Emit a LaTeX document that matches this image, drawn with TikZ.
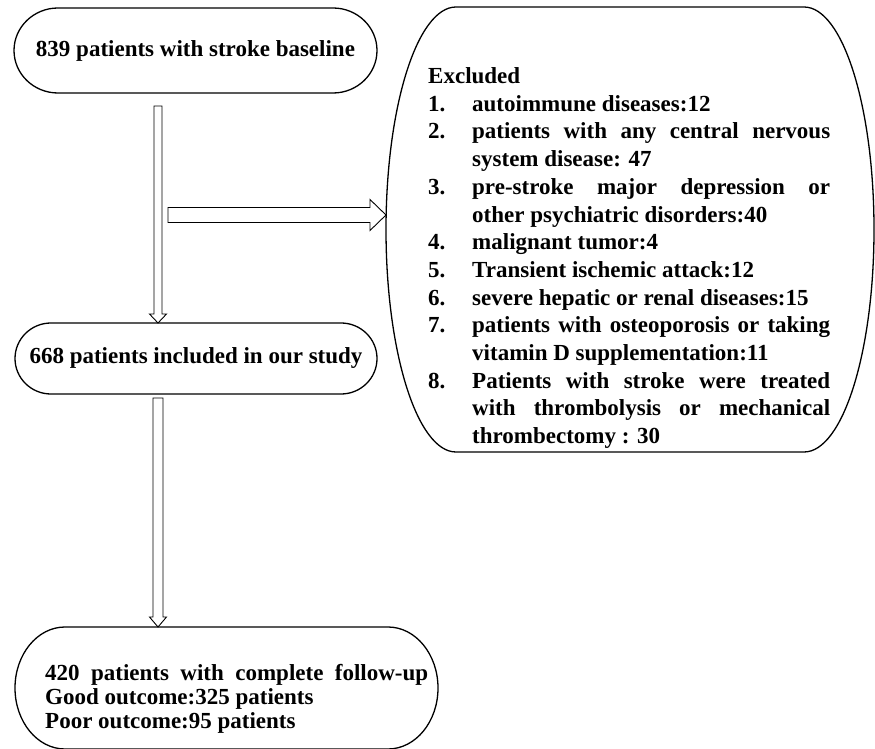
\documentclass[tikz,border=0pt]{standalone}
\usepackage{fontspec}
\setmainfont{Liberation Serif}
\usetikzlibrary{calc}

\tolerance=9999
\hbadness=10000
\hyphenpenalty=10000

% terminator frame round a node: node, end x radius, end y radius
\newcommand{\capsule}[3]{%
  \draw[frame] ([xshift=#2]#1.north west) -- ([xshift=-#2]#1.north east)
    arc[start angle=90, end angle=-90, x radius=#2, y radius=#3]
    -- ([xshift=#2]#1.south west)
    arc[start angle=270, end angle=90, x radius=#2, y radius=#3] -- cycle;}
% one numbered reason, hanging indent
\newcommand{\reason}[2]{\par\noindent\hangindent=44pt\hangafter=1\makebox[44pt][l]{#1}#2\par}

\begin{document}
\begin{tikzpicture}[
  x=1pt, y=1pt,
  box/.style={inner sep=0pt, outer sep=0pt, font=\fontsize{23}{27.7}\selectfont\bfseries},
  body/.style={inner sep=0pt, anchor=north west, align=justify, font=\fontsize{23}{27.7}\selectfont\bfseries},
  frame/.style={line width=1.3pt},
  hollow/.style n args={3}{line width=0.9pt, line join=miter, to path={
    ($(\tikztostart)!#1!90:(\tikztotarget)$)
    -- ($(\tikztotarget)!#3!(\tikztostart)!#1!90:(\tikztotarget)$)
    -- ($(\tikztotarget)!#3!(\tikztostart)!#2!90:(\tikztotarget)$)
    -- (\tikztotarget)
    -- ($(\tikztotarget)!#3!(\tikztostart)!#2!-90:(\tikztotarget)$)
    -- ($(\tikztotarget)!#3!(\tikztostart)!#1!-90:(\tikztotarget)$)
    -- ($(\tikztostart)!#1!-90:(\tikztotarget)$) -- cycle}}
]
\useasboundingbox (0,0) rectangle (875,748);
\clip (0,0) rectangle (875,748);

% boxes
\node[box, minimum width=363pt, minimum height=85pt] (base) at (195.5,697.5) {839 patients with stroke baseline};
\node[box, minimum width=362pt, minimum height=71pt] (incl) at (196,389.5) {668 patients included in our study};
\node[box, minimum width=488pt, minimum height=445pt] (excl) at (630,518.5) {};
\node[box, minimum width=423pt, minimum height=122pt] (follow) at (226.5,60) {};

\capsule{base}{44pt}{42.5pt}
\capsule{incl}{36pt}{35.5pt}
\capsule{excl}{70pt}{222.5pt}
\capsule{follow}{50pt}{61pt}

% texts of the two large boxes
\node[body, text width=402pt] (excltxt) at (428,680.6) {Excluded
  \reason{1.}{autoimmune diseases:12}
  \reason{2.}{patients with any central nervous\linebreak system disease: 47}
  \reason{3.}{pre-stroke major depression or\linebreak other psychiatric disorders:40}
  \reason{4.}{malignant tumor:4}
  \reason{5.}{Transient ischemic attack:12}
  \reason{6.}{severe hepatic or renal diseases:15}
  \reason{7.}{patients with osteoporosis or taking\linebreak vitamin D supplementation:11}
  \reason{8.}{Patients with stroke were treated\linebreak with thrombolysis or mechanical\linebreak thrombectomy : 30}};
\node[body, text width=383pt, font=\fontsize{23}{24}\selectfont\bfseries] (followtxt) at (45,83.6)
  {420 patients with complete follow-up\linebreak Good outcome:325 patients\par Poor outcome:95 patients};

% arrows
\coordinate (a1) at (158,642);
\coordinate (b1) at (incl.north -| a1);
\coordinate (a2) at (158,350);
\coordinate (b2) at (follow.north -| a2);
\coordinate (a3) at (168,533);
\coordinate (b3) at (excl.west |- a3);

\draw[hollow={4pt}{8.5pt}{9pt}] (a1) to (b1);
\draw[hollow={5pt}{8.5pt}{10pt}] (a2) to (b2);
\draw[hollow={7.5pt}{15.5pt}{16pt}] (a3) to (b3);
\end{tikzpicture}
\end{document}
